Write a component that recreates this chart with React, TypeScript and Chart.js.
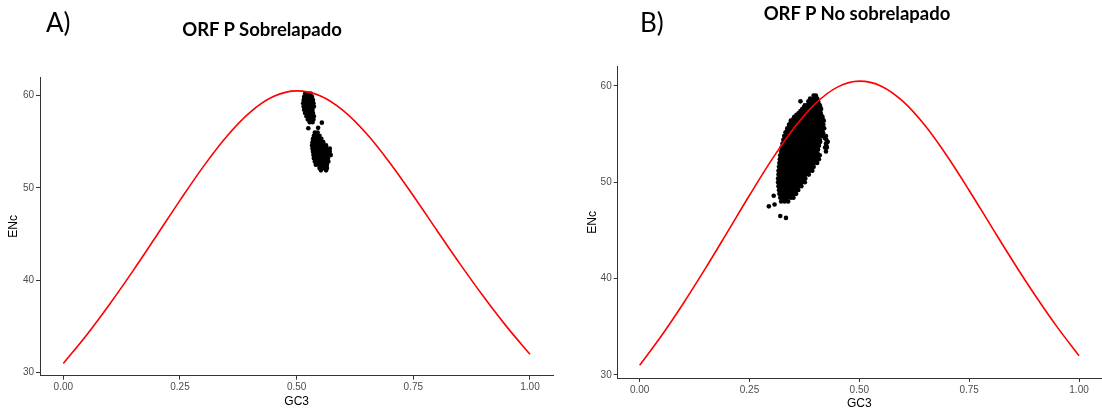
import React, { useEffect, useRef } from "react";
import { Chart, registerables } from "chart.js";

Chart.register(...registerables);

// Expected ENc under GC3-only selection, sampled along GC3
const gc3Grid = [0, 0.05, 0.1, 0.15, 0.2, 0.25, 0.3, 0.35, 0.4, 0.45, 0.5, 0.55, 0.6, 0.65, 0.7, 0.75, 0.8, 0.85, 0.9, 0.95, 1];
const encExpected = [31.0, 34.09, 37.47, 41.08, 44.85, 48.65, 52.3, 55.56, 58.17, 59.88, 60.5, 59.98, 58.37, 55.86, 52.7, 49.15, 45.45, 41.78, 38.27, 34.99, 32.0];

const xTicks = [0, 0.25, 0.5, 0.75, 1];
const yTicks = [30, 40, 50, 60];

// Genes grouped by ENc: [ENc, GC3 of each gene at that ENc]
const overlapRows: [number, number[]][] = [
  [60.2, [0.518, 0.524, 0.53]],
  [59.85, [0.516, 0.522, 0.528, 0.533]],
  [59.5, [0.515, 0.52, 0.526, 0.532, 0.535]],
  [59.15, [0.514, 0.519, 0.525, 0.531, 0.536]],
  [58.8, [0.515, 0.521, 0.527, 0.533, 0.537]],
  [58.45, [0.516, 0.522, 0.528, 0.534]],
  [58.1, [0.518, 0.524, 0.53, 0.535]],
  [57.75, [0.521, 0.527, 0.533, 0.537]],
  [57.4, [0.524, 0.53, 0.536]],
  [57.1, [0.528, 0.534]],
  [56.0, [0.539, 0.545]],
  [55.65, [0.537, 0.543, 0.549]],
  [55.3, [0.535, 0.541, 0.547, 0.553]],
  [54.95, [0.534, 0.54, 0.546, 0.552, 0.557]],
  [54.6, [0.533, 0.539, 0.545, 0.551, 0.557, 0.563]],
  [54.25, [0.534, 0.54, 0.546, 0.552, 0.558, 0.564, 0.571]],
  [53.9, [0.535, 0.541, 0.547, 0.553, 0.559, 0.565, 0.571]],
  [53.55, [0.536, 0.542, 0.548, 0.554, 0.56, 0.566, 0.573]],
  [53.2, [0.537, 0.543, 0.549, 0.555, 0.561, 0.567]],
  [52.85, [0.539, 0.545, 0.551, 0.557, 0.563, 0.568]],
  [52.5, [0.541, 0.547, 0.553, 0.559, 0.565]],
  [52.15, [0.549, 0.555, 0.561, 0.565]],
  [51.9, [0.552, 0.563]],
];
const overlapExtra: [number, number][] = [
  [0.554, 57.06],
  [0.525, 56.45],
  [0.546, 56.5],
];

const nonOverlapRows: [number, number[]][] = [
  [59.0, [0.396, 0.401]],
  [58.7, [0.388, 0.397, 0.404]],
  [58.4, [0.366, 0.384, 0.392, 0.4, 0.406]],
  [58.2, [0.386, 0.393, 0.4, 0.407]],
  [58.0, [0.376, 0.381, 0.389, 0.396, 0.404, 0.41]],
  [57.8, [0.374, 0.382, 0.39, 0.398, 0.405, 0.411]],
  [57.6, [0.37, 0.378, 0.386, 0.394, 0.401, 0.409, 0.413]],
  [57.4, [0.366, 0.376, 0.384, 0.392, 0.4, 0.407]],
  [57.2, [0.362, 0.374, 0.382, 0.39, 0.398, 0.405, 0.412]],
  [57.0, [0.357, 0.364, 0.372, 0.381, 0.39, 0.398, 0.406, 0.413]],
  [56.8, [0.352, 0.36, 0.368, 0.377, 0.386, 0.394, 0.402, 0.41, 0.416]],
  [56.6, [0.35, 0.36, 0.368, 0.377, 0.385, 0.394, 0.402, 0.41, 0.416]],
  [56.4, [0.344, 0.356, 0.364, 0.373, 0.381, 0.39, 0.398, 0.406, 0.414, 0.419]],
  [56.2, [0.344, 0.352, 0.361, 0.37, 0.379, 0.388, 0.397, 0.406, 0.414]],
  [56.0, [0.34, 0.348, 0.357, 0.366, 0.375, 0.384, 0.393, 0.402, 0.41, 0.418]],
  [55.8, [0.34, 0.348, 0.357, 0.366, 0.375, 0.384, 0.393, 0.401, 0.409, 0.416]],
  [55.6, [0.336, 0.344, 0.352, 0.361, 0.37, 0.379, 0.388, 0.397, 0.405, 0.413, 0.42]],
  [55.4, [0.336, 0.344, 0.352, 0.361, 0.37, 0.379, 0.388, 0.397, 0.405, 0.413]],
  [55.2, [0.332, 0.34, 0.348, 0.357, 0.366, 0.375, 0.384, 0.393, 0.401, 0.409, 0.417]],
  [55.0, [0.333, 0.341, 0.35, 0.359, 0.368, 0.377, 0.386, 0.394, 0.402, 0.41, 0.418]],
  [54.8, [0.329, 0.337, 0.345, 0.354, 0.363, 0.372, 0.381, 0.39, 0.398, 0.406, 0.414, 0.424]],
  [54.6, [0.331, 0.338, 0.346, 0.355, 0.364, 0.373, 0.382, 0.39, 0.398, 0.406, 0.421]],
  [54.4, [0.327, 0.334, 0.342, 0.35, 0.359, 0.368, 0.377, 0.386, 0.394, 0.402, 0.41, 0.425]],
  [54.2, [0.329, 0.336, 0.344, 0.352, 0.361, 0.37, 0.379, 0.387, 0.395, 0.403, 0.411, 0.428]],
  [54.0, [0.325, 0.332, 0.34, 0.348, 0.356, 0.365, 0.374, 0.383, 0.391, 0.399, 0.407, 0.424]],
  [53.8, [0.327, 0.334, 0.342, 0.35, 0.359, 0.368, 0.376, 0.384, 0.392, 0.4, 0.408, 0.425]],
  [53.6, [0.323, 0.33, 0.338, 0.346, 0.354, 0.363, 0.372, 0.38, 0.388, 0.396, 0.404, 0.422, 0.426]],
  [53.4, [0.325, 0.332, 0.34, 0.348, 0.357, 0.366, 0.374, 0.382, 0.39, 0.398, 0.406]],
  [53.2, [0.322, 0.328, 0.336, 0.344, 0.352, 0.361, 0.37, 0.378, 0.386, 0.394, 0.402, 0.424]],
  [53.0, [0.324, 0.331, 0.339, 0.347, 0.355, 0.364, 0.372, 0.38, 0.388, 0.396, 0.405]],
  [52.8, [0.32, 0.327, 0.335, 0.343, 0.351, 0.359, 0.368, 0.376, 0.384, 0.392, 0.4, 0.41]],
  [52.6, [0.323, 0.33, 0.338, 0.346, 0.354, 0.362, 0.37, 0.378, 0.386, 0.394, 0.403]],
  [52.4, [0.319, 0.326, 0.334, 0.342, 0.35, 0.358, 0.366, 0.374, 0.382, 0.39, 0.398, 0.408]],
  [52.2, [0.322, 0.329, 0.337, 0.345, 0.353, 0.361, 0.369, 0.377, 0.385, 0.393, 0.4]],
  [52.0, [0.318, 0.325, 0.333, 0.341, 0.349, 0.357, 0.365, 0.373, 0.381, 0.389, 0.397, 0.404]],
  [51.8, [0.321, 0.328, 0.336, 0.344, 0.352, 0.36, 0.368, 0.376, 0.384, 0.392]],
  [51.6, [0.317, 0.324, 0.332, 0.34, 0.348, 0.356, 0.364, 0.372, 0.38, 0.388, 0.396]],
  [51.4, [0.32, 0.327, 0.335, 0.343, 0.351, 0.359, 0.367, 0.375, 0.383, 0.39]],
  [51.2, [0.316, 0.323, 0.331, 0.339, 0.347, 0.355, 0.363, 0.371, 0.379, 0.387, 0.393]],
  [51.0, [0.319, 0.327, 0.335, 0.343, 0.351, 0.359, 0.367, 0.375, 0.382]],
  [50.8, [0.316, 0.323, 0.331, 0.339, 0.347, 0.355, 0.363, 0.371, 0.378, 0.385]],
  [50.6, [0.319, 0.326, 0.334, 0.342, 0.35, 0.358, 0.366, 0.373]],
  [50.4, [0.315, 0.322, 0.33, 0.338, 0.346, 0.354, 0.362, 0.37, 0.377]],
  [50.2, [0.318, 0.326, 0.334, 0.342, 0.35, 0.358, 0.365, 0.372]],
  [50.0, [0.315, 0.322, 0.33, 0.338, 0.346, 0.354, 0.362, 0.369, 0.376]],
  [49.8, [0.319, 0.327, 0.335, 0.343, 0.351, 0.358, 0.365]],
  [49.6, [0.316, 0.323, 0.331, 0.339, 0.347, 0.355, 0.362, 0.368]],
  [49.4, [0.32, 0.328, 0.336, 0.344, 0.351, 0.358]],
  [49.2, [0.317, 0.324, 0.332, 0.34, 0.348, 0.355, 0.361]],
  [49.0, [0.322, 0.33, 0.338, 0.346, 0.353]],
  [48.8, [0.318, 0.326, 0.334, 0.342, 0.35, 0.356]],
  [48.6, [0.324, 0.332, 0.34, 0.347]],
  [48.4, [0.32, 0.328, 0.336, 0.344, 0.35]],
  [48.2, [0.326, 0.334]],
  [48.0, [0.322, 0.33, 0.338]],
];
const nonOverlapExtra: [number, number][] = [
  [0.294, 47.5],
  [0.305, 48.6],
  [0.307, 47.7],
  [0.32, 46.5],
  [0.333, 46.3],
];

type Geom = {
  left: number;
  width: number;
  areaLeft: number;
  areaRight: number;
  areaTop: number;
  areaBottom: number;
  yTitlePad: number;
  xTitlePad: number;
};

const H = 414;
const tickFont = { family: "'Liberation Sans', Arial, sans-serif", size: 10 };
const titleFont = { family: "'Liberation Sans', Arial, sans-serif", size: 12 };

function Panel({ rows, extra, g }: { rows: [number, number[]][]; extra: [number, number][]; g: Geom }) {
  const ref = useRef<HTMLCanvasElement>(null);

  useEffect(() => {
    const pts: { x: number; y: number }[] = [];
    rows.forEach(([enc, xs]) => xs.forEach((x) => pts.push({ x, y: enc })));
    extra.forEach(([x, y]) => pts.push({ x, y }));
    const curve = gc3Grid.map((x, i) => ({ x, y: encExpected[i] }));

    const axisGrid = {
      display: true,
      drawOnChartArea: false,
      drawTicks: true,
      tickLength: 4,
      color: "#333333",
      lineWidth: 1,
    };
    const axisBorder = { display: true, color: "#333333", width: 1 };

    const chart = new Chart(ref.current as HTMLCanvasElement, {
      type: "scatter",
      data: {
        datasets: [
          {
            data: curve,
            showLine: true,
            borderColor: "#FF0000",
            borderWidth: 1.6,
            pointRadius: 0,
            cubicInterpolationMode: "monotone",
            fill: false,
          } as any,
          {
            data: pts,
            backgroundColor: "#000000",
            borderWidth: 0,
            pointRadius: 2.3,
          },
        ],
      },
      options: {
        animation: false,
        responsive: false,
        devicePixelRatio: 1,
        events: [],
        layout: { padding: { top: g.areaTop, right: g.width - g.areaRight, left: 0, bottom: 0 } },
        plugins: { legend: { display: false }, tooltip: { enabled: false } },
        scales: {
          x: {
            type: "linear",
            min: -0.05,
            max: 1.05,
            afterBuildTicks: (s: any) => {
              s.ticks = xTicks.map((v) => ({ value: v }));
            },
            afterFit: (s: any) => {
              s.height = H - g.areaBottom;
            },
            ticks: {
              callback: (v: any) => Number(v).toFixed(2),
              color: "#4D4D4D",
              font: tickFont,
              padding: 2,
              maxRotation: 0,
              autoSkip: false,
            },
            grid: axisGrid,
            border: axisBorder,
            title: {
              display: true,
              text: "GC3",
              color: "#000000",
              font: titleFont,
              padding: { top: 0, bottom: g.xTitlePad },
            },
          },
          y: {
            type: "linear",
            min: 29.68,
            max: 62.0,
            afterBuildTicks: (s: any) => {
              s.ticks = yTicks.map((v) => ({ value: v }));
            },
            afterFit: (s: any) => {
              s.width = g.areaLeft;
            },
            ticks: {
              callback: (v: any) => String(v),
              color: "#4D4D4D",
              font: tickFont,
              padding: 2,
              autoSkip: false,
            },
            grid: axisGrid,
            border: axisBorder,
            title: {
              display: true,
              text: "ENc",
              color: "#000000",
              font: titleFont,
              padding: { top: g.yTitlePad, bottom: 0 },
            },
          },
        },
      } as any,
    });
    return () => chart.destroy();
  }, []);

  return (
    <canvas
      ref={ref}
      width={g.width}
      height={H}
      style={{ position: "absolute", left: g.left, top: 0, width: g.width, height: H }}
    />
  );
}

const leftGeom: Geom = {
  left: 0,
  width: 560,
  areaLeft: 40,
  areaRight: 553.3,
  areaTop: 77,
  areaBottom: 375.7,
  yTitlePad: 6.5,
  xTitlePad: 5.2,
};

const rightGeom: Geom = {
  left: 560,
  width: 545,
  areaLeft: 57.7,
  areaRight: 544.9,
  areaTop: 66.7,
  areaBottom: 378,
  yTitlePad: 25.2,
  xTitlePad: 3.2,
};

const headFont = "Lato, 'Open Sans', sans-serif";

function Label({ text, left, top, size, bold, center }: { text: string; left: number; top: number; size: number; bold?: boolean; center?: boolean }) {
  return (
    <div
      style={{
        position: "absolute",
        left,
        top,
        fontFamily: headFont,
        fontSize: size,
        lineHeight: `${size}px`,
        fontWeight: bold ? 700 : 400,
        color: "#000",
        whiteSpace: "nowrap",
        transform: center ? "translateX(-50%)" : undefined,
      }}
    >
      {text}
    </div>
  );
}

export default function App() {
  return (
    <div
      style={{
        position: "absolute",
        left: 0,
        top: 0,
        width: 1102,
        height: 414,
        overflow: "hidden",
        background: "#ffffff",
      }}
    >
      <Panel rows={overlapRows} extra={overlapExtra} g={leftGeom} />
      <Panel rows={nonOverlapRows} extra={nonOverlapExtra} g={rightGeom} />
      <Label text="A)" left={46} top={8.6} size={26} />
      <Label text="ORF P Sobrelapado" left={262} top={19.6} size={18.5} bold center />
      <Label text="B)" left={640} top={8.6} size={26} />
      <Label text="ORF P No sobrelapado" left={857} top={4.3} size={18.5} bold center />
    </div>
  );
}
